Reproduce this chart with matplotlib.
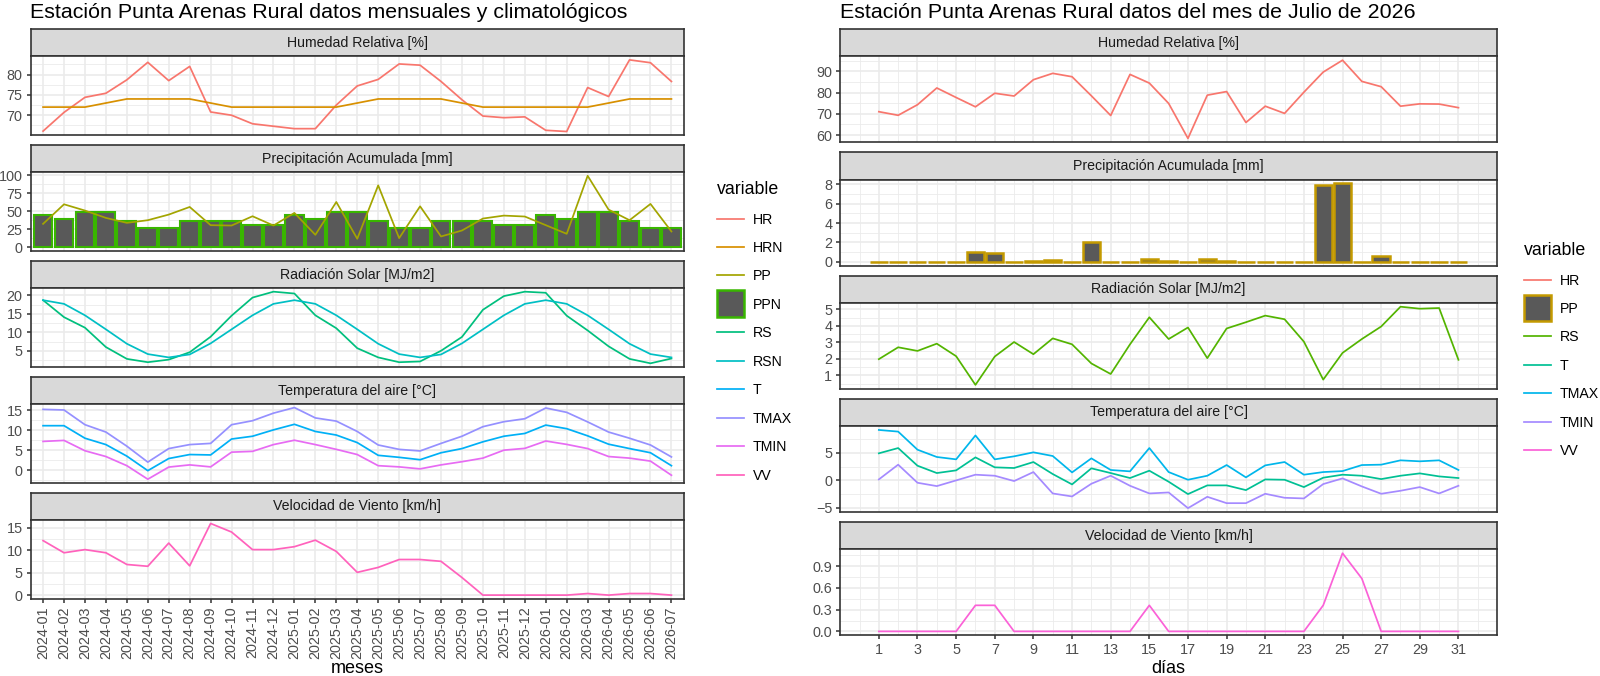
import matplotlib
matplotlib.use("Agg")
import matplotlib.pyplot as plt
import matplotlib.patches as mpatches
from matplotlib.legend_handler import HandlerPatch
from matplotlib.ticker import MultipleLocator, FormatStrFormatter

plt.rcParams['font.family'] = ['Liberation Sans', 'DejaVu Sans']

# ---------------- datos mensuales (izquierda) ----------------
meses = ['2024-01', '2024-02', '2024-03', '2024-04', '2024-05', '2024-06',
         '2024-07', '2024-08', '2024-09', '2024-10', '2024-11', '2024-12',
         '2025-01', '2025-02', '2025-03', '2025-04', '2025-05', '2025-06',
         '2025-07', '2025-08', '2025-09', '2025-10', '2025-11', '2025-12',
         '2026-01', '2026-02', '2026-03', '2026-04', '2026-05', '2026-06',
         '2026-07']
hr_m = [66.1, 70.7, 74.4, 75.4, 78.7, 83.0, 78.5, 82.0, 70.8, 70.0, 67.9, 67.3,
        66.7, 66.7, 72.5, 77.2, 78.8, 82.6, 82.3, 78.3, 73.8, 69.8, 69.4, 69.6,
        66.3, 66.0, 76.8, 74.6, 83.6, 82.9, 78.3]
hrn_m = [72, 72, 72, 73, 74, 74, 74, 74, 73, 72, 72, 72,
         72, 72, 72, 73, 74, 74, 74, 74, 73, 72, 72, 72,
         72, 72, 72, 73, 74, 74, 74]
pp_m = [32.7, 59.9, 51.2, 41.0, 34.1, 37.8, 45.6, 56.2, 30.9, 30.4, 43.3, 30.4,
        47.9, 17.5, 63.1, 12.0, 86.2, 12.9, 57.1, 15.2, 23.5, 40.1, 44.2, 42.9,
        30.9, 18.9, 99.5, 52.5, 37.8, 60.4, 22.1]
ppn_m = [45.2, 40.1, 49.3, 49.3, 36.4, 26.7, 26.7, 36.4, 36.4, 36.4, 30.9, 30.9,
         45.2, 40.1, 49.3, 49.3, 36.4, 26.7, 26.7, 36.4, 36.4, 36.4, 30.9, 30.9,
         45.2, 40.1, 49.3, 49.3, 36.4, 26.7, 26.7]
rs_m = [18.7, 14.1, 11.25, 6.0, 2.8, 1.9, 2.6, 4.6, 8.8, 14.5, 19.4, 21.0,
        20.5, 14.6, 11.1, 5.7, 3.2, 1.9, 2.1, 5.0, 8.75, 16.1, 19.8, 21.0,
        20.7, 14.5, 10.5, 6.2, 2.8, 1.6, 2.9]
rsn_m = [18.7, 17.7, 14.6, 10.8, 6.9, 4.1, 3.2, 4.0, 7.0, 10.8, 14.6, 17.7,
         18.7, 17.7, 14.6, 10.8, 6.9, 4.1, 3.2, 4.0, 7.0, 10.8, 14.6, 17.7,
         18.7, 17.7, 14.6, 10.8, 6.9, 4.1, 3.2]
t_m = [11.15, 11.15, 8.0, 6.4, 3.5, -0.15, 2.9, 3.9, 3.8, 7.8, 8.5, 10.1,
       11.5, 9.7, 8.8, 6.9, 3.7, 3.2, 2.6, 4.35, 5.4, 7.1, 8.5, 9.2,
       11.3, 10.4, 8.6, 6.5, 5.4, 4.35, 1.1]
tmax_m = [15.25, 15.1, 11.4, 9.55, 6.0, 2.0, 5.4, 6.4, 6.7, 11.4, 12.4, 14.3,
          15.7, 13.1, 12.3, 9.7, 6.3, 5.2, 4.8, 6.7, 8.5, 10.9, 12.15, 12.9,
          15.6, 14.5, 12.1, 9.55, 8.0, 6.3, 3.3]
tmin_m = [7.2, 7.45, 4.85, 3.4, 1.1, -2.3, 0.75, 1.3, 0.8, 4.5, 4.7, 6.4,
          7.5, 6.4, 5.2, 3.9, 1.1, 0.8, 0.3, 1.3, 2.1, 3.0, 5.0, 5.45,
          7.3, 6.45, 5.4, 3.4, 3.0, 2.25, -1.3]
vv_m = [12.1, 9.4, 10.1, 9.4, 6.8, 6.4, 11.55, 6.5, 15.9, 14.0, 10.1, 10.1,
        10.75, 12.2, 9.7, 5.05, 6.15, 7.9, 7.9, 7.5, 3.9, 0.0, 0.0, 0.0,
        0.0, 0.0, 0.35, 0.0, 0.35, 0.35, 0.0]

# ---------------- datos diarios julio 2026 (derecha) ----------------
dias = list(range(1, 32))
hr_d = [71.0, 69.3, 74.3, 82.2, 77.7, 73.3, 79.7, 78.4, 86.1, 89.1, 87.5, 78.5,
        69.2, 88.6, 84.5, 74.9, 58.4, 78.8, 80.5, 65.9, 73.6, 70.2, 80.2, 89.7,
        95.3, 85.3, 82.8, 73.6, 74.7, 74.6, 72.9]
pp_d = [0, 0, 0, 0, 0, 1.0, 0.9, 0, 0.1, 0.2, 0, 2.0, 0, 0, 0.3, 0.1,
        0, 0.3, 0.1, 0, 0, 0, 0, 7.9, 8.1, 0, 0.6, 0, 0, 0, 0]
rs_d = [1.98, 2.7, 2.48, 2.92, 2.16, 0.42, 2.14, 3.02, 2.28, 3.24, 2.88, 1.72,
        1.08, 2.88, 4.52, 3.2, 3.9, 2.04, 3.84, 4.22, 4.62, 4.4, 3.04, 0.74,
        2.36, 3.2, 3.96, 5.16, 5.04, 5.08, 1.94]
t_d = [4.94, 5.9, 2.68, 1.34, 1.83, 4.2, 2.38, 2.26, 3.35, 1.16, -0.73, 2.2,
       1.34, 0.43, 1.77, -0.24, -2.5, -0.91, -0.91, -1.77, 0.18, 0.12, -1.22, 0.49,
       1.04, 0.85, 0.24, 0.85, 1.28, 0.73, 0.43]
tmax_d = [9.2, 8.9, 5.6, 4.27, 3.84, 8.2, 3.84, 4.39, 5.12, 4.45, 1.46, 4.02,
          1.9, 1.65, 5.9, 1.52, 0.12, 0.85, 2.8, 0.55, 2.74, 3.35, 1.04, 1.52,
          1.7, 2.8, 2.87, 3.66, 3.48, 3.66, 1.9]
tmin_d = [0.18, 2.87, -0.43, -1.04, 0.0, 1.04, 0.85, -0.12, 1.52, -2.38, -2.93, -0.61,
          0.85, -0.98, -2.38, -2.2, -5.06, -2.99, -4.15, -4.15, -2.44, -3.17, -3.29, -0.67,
          0.37, -1.1, -2.44, -1.89, -1.22, -2.38, -0.98]
vv_d = [0, 0, 0, 0, 0, 0.36, 0.36, 0, 0, 0, 0, 0, 0, 0, 0.36, 0,
        0, 0, 0, 0, 0, 0, 0, 0.36, 1.08, 0.73, 0, 0, 0, 0, 0]

paneles = ['Humedad Relativa [%]', 'Precipitación Acumulada [mm]',
           'Radiación Solar [MJ/m2]', 'Temperatura del aire [°C]',
           'Velocidad de Viento [km/h]']

col_izq = {'HR': '#F8766D', 'HRN': '#D89000', 'PP': '#A3A500', 'PPN': '#39B600',
           'RS': '#00BF7D', 'RSN': '#00BFC4', 'T': '#00B0F6', 'TMAX': '#9590FF',
           'TMIN': '#E76BF3', 'VV': '#FF62BC'}
col_der = {'HR': '#F8766D', 'PP': '#C49A00', 'RS': '#53B400', 'T': '#00C094',
           'TMAX': '#00B6EB', 'TMIN': '#A58AFF', 'VV': '#FB61D7'}

W, H = 1600, 676
fig = plt.figure(figsize=(16, 6.76), dpi=100)

FS = 10.2      # strip / leyenda
FT = 10.4      # etiquetas de ejes
LW = 1.25
BORDE = '#333333'
BAR_FILL = '#595959'


def px_axes(x0, y0, x1, y1, **kw):
    return fig.add_axes([x0 / W, 1 - y1 / H, (x1 - x0) / W, (y1 - y0) / H], **kw)


def columna(x0, x1, top0, pitch, strip_h, panel_h):
    axes = []
    for i, titulo in enumerate(paneles):
        st = top0 + i * pitch
        sa = px_axes(x0, st, x1, st + strip_h)
        sa.set_facecolor('#D9D9D9')
        sa.set_xticks([])
        sa.set_yticks([])
        for sp in sa.spines.values():
            sp.set_color(BORDE)
            sp.set_linewidth(1.2)
        sa.text(0.5, 0.5, titulo, ha='center', va='center', transform=sa.transAxes,
                fontsize=FS, color='#1A1A1A')
        kw = {'sharex': axes[0]} if axes else {}
        ax = px_axes(x0, st + strip_h, x1, st + strip_h + panel_h, **kw)
        ax.use_sticky_edges = False
        ax.set_axisbelow(True)
        for sp in ax.spines.values():
            sp.set_color(BORDE)
            sp.set_linewidth(1.2)
        ax.tick_params(which='major', direction='out', length=3.2, width=1.1,
                       color=BORDE, labelsize=FT, labelcolor='#4D4D4D', pad=2.5)
        ax.tick_params(which='minor', length=0)
        ax.grid(which='major', color='#EBEBEB', linewidth=1.2)
        ax.grid(which='minor', color='#EBEBEB', linewidth=0.6)
        if i < len(paneles) - 1:
            ax.tick_params(axis='x', which='both', length=0, labelbottom=False)
        axes.append(ax)
    return axes, st + strip_h + panel_h, panel_h


def eje_y(ax, paso, fmt=None):
    ax.yaxis.set_major_locator(MultipleLocator(paso))
    ax.yaxis.set_minor_locator(MultipleLocator(paso / 2))
    if fmt:
        ax.yaxis.set_major_formatter(FormatStrFormatter(fmt))


def titulo_x(ax, texto, fondo_px, alto_px, base_px):
    ax.set_xlabel(texto, fontsize=13)
    ax.xaxis.label.set_va('baseline')
    ax.xaxis.set_label_coords(0.5, -(base_px - fondo_px) / alto_px)


def cuadrado(legend, orig_handle, xdescent, ydescent, width, height, fontsize):
    s = width
    return mpatches.Rectangle((-xdescent, -ydescent + height / 2 - s / 2), s, s)


def leyenda(handles, labels, x, y):
    fig.legend(handles, labels, loc='upper left', bbox_to_anchor=(x / W, 1 - y / H),
               frameon=False, title='variable', fontsize=FS, title_fontsize=12.75,
               alignment='left', borderpad=0, labelspacing=1.02, handlelength=1.9,
               handletextpad=0.6,
               handler_map={mpatches.Patch: HandlerPatch(patch_func=cuadrado)})


# ---------------- columna izquierda ----------------
L, fondo_L, alto_L = columna(30.5, 684, 29.3, 115.9, 27.0, 78.8)
xi = list(range(len(meses)))
h = {}
h['HR'], = L[0].plot(xi, hr_m, color=col_izq['HR'], lw=LW)
h['HRN'], = L[0].plot(xi, hrn_m, color=col_izq['HRN'], lw=LW)
L[1].bar(xi, ppn_m, width=0.9, color=BAR_FILL, edgecolor=col_izq['PPN'], linewidth=1.5)
h['PP'], = L[1].plot(xi, pp_m, color=col_izq['PP'], lw=LW)
h['PPN'] = mpatches.Patch(facecolor=BAR_FILL, edgecolor=col_izq['PPN'], linewidth=1.8)
h['RS'], = L[2].plot(xi, rs_m, color=col_izq['RS'], lw=LW)
h['RSN'], = L[2].plot(xi, rsn_m, color=col_izq['RSN'], lw=LW)
h['T'], = L[3].plot(xi, t_m, color=col_izq['T'], lw=LW)
h['TMAX'], = L[3].plot(xi, tmax_m, color=col_izq['TMAX'], lw=LW)
h['TMIN'], = L[3].plot(xi, tmin_m, color=col_izq['TMIN'], lw=LW)
h['VV'], = L[4].plot(xi, vv_m, color=col_izq['VV'], lw=LW)

for ax, paso in zip(L, [5, 25, 5, 5, 5]):
    ax.margins(y=0.05)
    eje_y(ax, paso)
L[0].set_xlim(-0.6, len(meses) - 1 + 0.6)
L[0].set_xticks(xi)
L[4].set_xticklabels(meses, rotation=90)
titulo_x(L[4], 'meses', fondo_L, alto_L, 673)

orden = ['HR', 'HRN', 'PP', 'PPN', 'RS', 'RSN', 'T', 'TMAX', 'TMIN', 'VV']
leyenda([h[k] for k in orden], orden, 710, 174)
fig.text(30.5 / W, 1 - 18 / H, 'Estación Punta Arenas Rural datos mensuales y climatológicos',
         fontsize=15.4, ha='left', va='baseline')

# ---------------- columna derecha ----------------
R, fondo_R, alto_R = columna(840.3, 1497, 29.0, 123.25, 27.3, 86.0)
g = {}
g['HR'], = R[0].plot(dias, hr_d, color=col_der['HR'], lw=LW)
R[1].bar(dias, pp_d, width=0.9, color=BAR_FILL, edgecolor=col_der['PP'], linewidth=1.8)
g['PP'] = mpatches.Patch(facecolor=BAR_FILL, edgecolor=col_der['PP'], linewidth=1.8)
g['RS'], = R[2].plot(dias, rs_d, color=col_der['RS'], lw=LW)
g['T'], = R[3].plot(dias, t_d, color=col_der['T'], lw=LW)
g['TMAX'], = R[3].plot(dias, tmax_d, color=col_der['TMAX'], lw=LW)
g['TMIN'], = R[3].plot(dias, tmin_d, color=col_der['TMIN'], lw=LW)
g['VV'], = R[4].plot(dias, vv_d, color=col_der['VV'], lw=LW)

for ax, paso in zip(R, [10, 2, 1, 5, 0.3]):
    ax.margins(x=0.05, y=0.05)
    eje_y(ax, paso, '%.1f' if paso < 1 else None)
R[0].set_xticks(dias[::2])
R[0].xaxis.set_minor_locator(MultipleLocator(1))
titulo_x(R[4], 'días', fondo_R, alto_R, 673)

orden_d = ['HR', 'PP', 'RS', 'T', 'TMAX', 'TMIN', 'VV']
leyenda([g[k] for k in orden_d], orden_d, 1517, 235)
fig.text(840.3 / W, 1 - 18 / H, 'Estación Punta Arenas Rural datos del mes de Julio de 2026',
         fontsize=15.4, ha='left', va='baseline')

fig.savefig('out.png', dpi=100)
